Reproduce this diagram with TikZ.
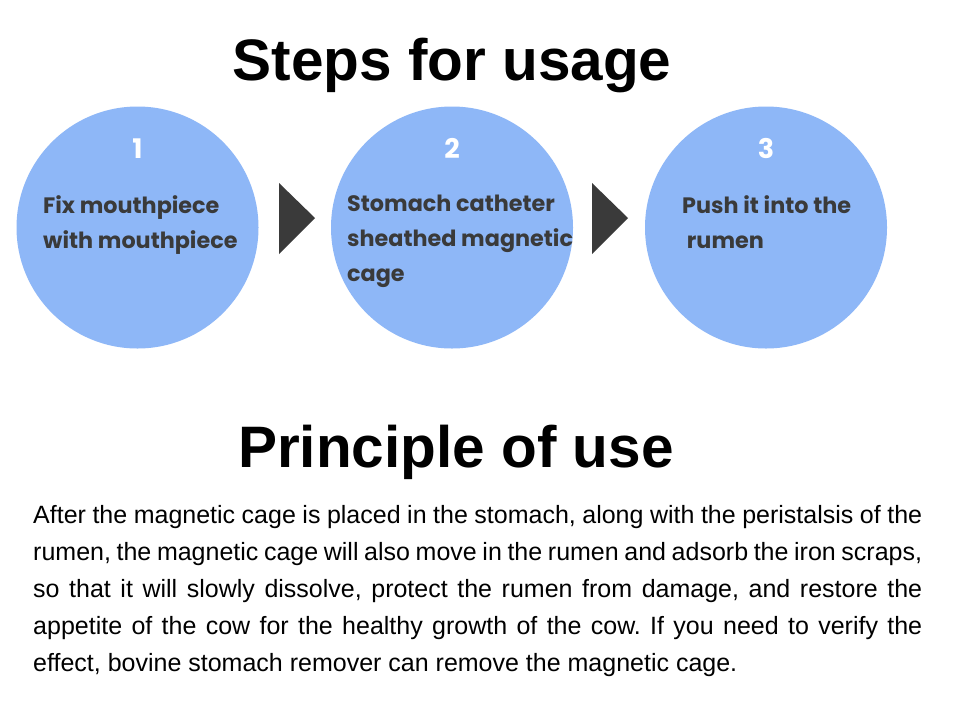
\documentclass[tikz,border=0pt]{standalone}
\usepackage{fontspec}
\setmainfont{Liberation Sans}
\newfontfamily\stepfont{Poppins}
\usepackage{tikz}
\usetikzlibrary{calc}
\definecolor{stepblue}{RGB}{142,183,247}
\definecolor{arrowgray}{RGB}{58,58,58}
\definecolor{textgray}{RGB}{58,58,58}
\begin{document}
\begin{tikzpicture}[x=1pt,y=-1pt,
    stepcircle/.style={circle,fill=stepblue,minimum size=242pt,inner sep=0pt},
    stepnum/.style={font=\stepfont\bfseries\fontsize{27}{27}\selectfont,text=white,inner sep=0pt},
    steptext/.style={font=\stepfont\bfseries\fontsize{22.3}{35}\selectfont,text=textgray,align=left,anchor=north west,inner sep=0pt},
    heading/.style={font=\bfseries\fontsize{58.5}{58.5}\selectfont,anchor=base,inner sep=0pt}]
            \fill[white] (0,0) rectangle (960,710);
            \useasboundingbox (0,0) rectangle (960,710);
            \node[heading] (steps) at (452,80) {Steps for usage};
            \node[stepcircle] (step1) at (137.5,227.5) {};
            \node[stepcircle] (step2) at (452,227.5) {};
            \node[stepcircle] (step3) at (766,227.5) {};
            \node[stepnum] (num1) at ($(step1.center)+(0,-79)$) {1};
            \node[stepnum] (num2) at ($(step2.center)+(0,-79)$) {2};
            \node[stepnum] (num3) at ($(step3.center)+(0,-79)$) {3};
            \node[steptext] (text1) at (43,195) {Fix mouthpiece\\with mouthpiece};
            \node[steptext] (text2) at (347,195) {Stomach catheter\\sheathed magnetic\\cage};
            \node[steptext] (text3) at (682,195) {Push it into the\\\ rumen};
            \fill[arrowgray] (279,183) -- (315,218) -- (279,254) -- cycle;
            \fill[arrowgray] (592,183) -- (628,218) -- (592,254) -- cycle;
            \node[heading] (principle) at (456,467) {Principle of use};
            \node[anchor=base west,text width=889pt,align=justify,inner sep=0pt,font=\frenchspacing\fontsize{25}{37}\selectfont] (usage) at (33,523)
                {After the magnetic cage is placed in the stomach, along with the peristalsis of the\linebreak
                rumen, the magnetic cage will also move in the rumen and adsorb the iron scraps,\linebreak
                so that it will slowly dissolve, protect the rumen from damage, and restore the\linebreak
                appetite of the cow for the healthy growth of the cow. If you need to verify the\linebreak
                effect, bovine stomach remover can remove the magnetic cage.};
        \end{tikzpicture}
\end{document}
